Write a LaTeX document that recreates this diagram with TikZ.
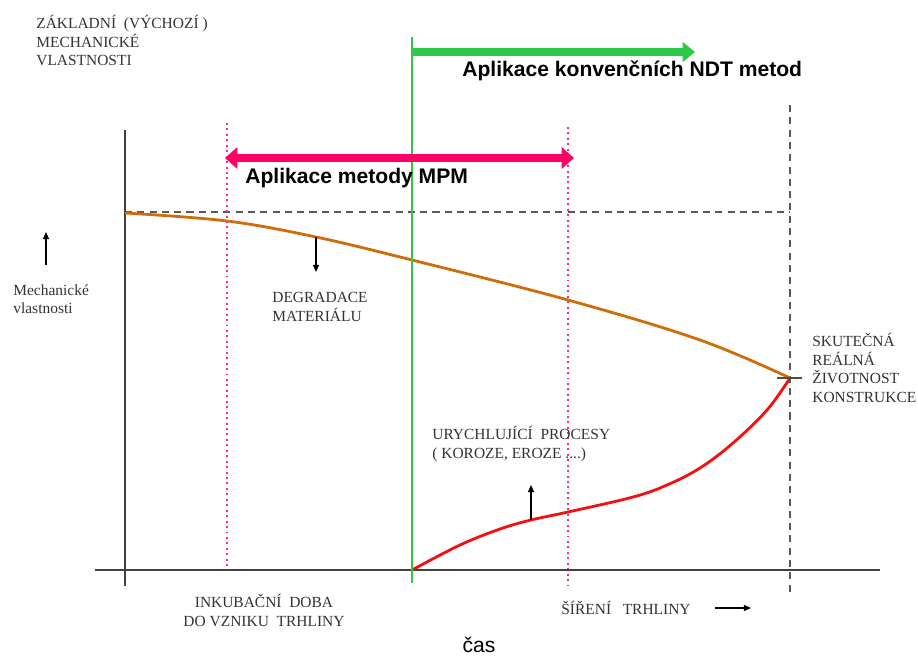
\documentclass[tikz,border=0pt]{standalone}
\usepackage{fontspec}
\setmainfont{Liberation Serif}
\setsansfont{Liberation Sans}
\usepackage{xcolor}
\usepackage{tikz}
\usetikzlibrary{arrows.meta, positioning}
\definecolor{curveorange}{RGB}{205,110,10}
\definecolor{curvered}{RGB}{245,15,15}
\definecolor{ndtgreen}{RGB}{45,200,70}
\definecolor{mpmpink}{RGB}{255,0,100}
\definecolor{phasepink}{RGB}{255,40,140}
\tikzstyle{note} = [font=\fontsize{8.8}{10.6}\selectfont, text=black!80,
    align=left, inner sep=0pt, anchor=north west]
\tikzstyle{headline} = [font=\sffamily\bfseries\fontsize{12}{14}\selectfont,
    inner sep=0pt, anchor=base west]
\tikzstyle{axisline} = [line width=1.1pt, black!75]
\tikzstyle{guide} = [line width=0.7pt, black!65, dash pattern=on 4pt off 3pt]
\tikzstyle{phase} = [line width=1.1pt, phasepink, dotted]
\tikzstyle{arrow} = [line width=0.6pt, -{Triangle[length=4pt,width=3.4pt]}]
\tikzstyle{band} = [line width=4.3pt]

\begin{document}
\begin{tikzpicture}[x=0.02cm, y=-0.02cm]
  \useasboundingbox (0,0) rectangle (918,657);

  % axes and guides
  \coordinate (origin) at (125,570);
  \coordinate (ytop)   at (125,130);
  \coordinate (ybot)   at (125,586);
  \coordinate (xleft)  at (95,570);
  \coordinate (xright) at (880,570);
  \coordinate (base)   at (125,212);
  \coordinate (life)   at (790,378);
  \coordinate (lifetop) at (790,105);
  \coordinate (lifebot) at (790,593);

  \draw[guide] (base) -- (base -| life);
  \draw[guide] (lifetop) -- (lifebot);
  \draw[phase] (227,123) coordinate (incL) -- (incL |- origin);
  \draw[phase] (568,127) coordinate (incR) -- (568,588);
  \draw[axisline] (xleft) -- (xright);
  \draw[axisline] (ytop) -- (ybot);

  % curves
  \draw[curveorange, line width=1.6pt] plot[smooth, tension=0.6] coordinates
    {(125,213) (227,221) (316,237) (412,260) (568,300) (700,340) (790,378)};
  \draw[curvered, line width=1.6pt] plot[smooth, tension=0.6] coordinates
    {(412,570) (460,545) (500,529) (531,520) (568,512) (633,497) (667,485)
     (700,468) (733,443) (767,410) (790,378)};
  \draw[black!70, line width=0.8pt] (777,378) -- (802,378);

  % methods
  \coordinate (ndttop) at (412,37);
  \draw[ndtgreen, line width=1.4pt] (ndttop) -- (412,583);
  \coordinate (ndtend) at (695,52);
  \draw[band, ndtgreen, -{Triangle[length=7pt,width=11pt]}]
    (ndttop |- ndtend) -- (ndtend);
  \coordinate (mpmL) at (225,158);
  \coordinate (mpmR) at (574,158);
  \draw[band, mpmpink, {Triangle[length=7pt,width=12pt]}-{Triangle[length=7pt,width=12pt]}]
    (mpmL) -- (mpmR);

  \node (ndt) [headline] at (462,76) {Aplikace konvenčních NDT metod};
  \node (mpm) [headline] at (245,183) {Aplikace metody MPM};

  % small arrows
  \coordinate (upA)    at (46,265);
  \coordinate (upB)    at (46,232);
  \coordinate (degA)   at (316,237);
  \coordinate (degB)   at (316,272);
  \coordinate (accA)   at (531,520);
  \coordinate (accB)   at (531,485);
  \coordinate (timeA)  at (715,608);
  \coordinate (timeB)  at (751,608);
  \foreach \a/\b in {upA/upB, degA/degB, accA/accB, timeA/timeB}
    \draw[arrow] (\a) -- (\b);

  % labels
  \node (basis)   [note] at (36,15) {ZÁKLADNÍ \ (VÝCHOZÍ )\\MECHANICKÉ\\VLASTNOSTI};
  \node (mech)    [note] at (13,284) {Mechanické\\vlastnosti};
  \node (degrad)  [note] at (272,292) {DEGRADACE\\MATERIÁLU};
  \node (real)    [note] at (812,333) {SKUTEČNÁ\\REÁLNÁ\\ŽIVOTNOST\\KONSTRUKCE};
  \node (accel)   [note] at (432,426) {URYCHLUJÍCÍ \ PROCESY\\( KOROZE, EROZE ....)};
  \node (incub)   [note, align=center, anchor=north] at (264,594)
        {INKUBAČNÍ \ DOBA\\DO VZNIKU \ TRHLINY};
  \node (spread)  [note, anchor=base west] at (561,614) {ŠÍŘENÍ \ \ TRHLINY};
  \node (time)    [font=\sffamily\fontsize{12}{14}\selectfont, inner sep=0pt,
                   anchor=base] at (479,652) {čas};

\end{tikzpicture}
\end{document}
